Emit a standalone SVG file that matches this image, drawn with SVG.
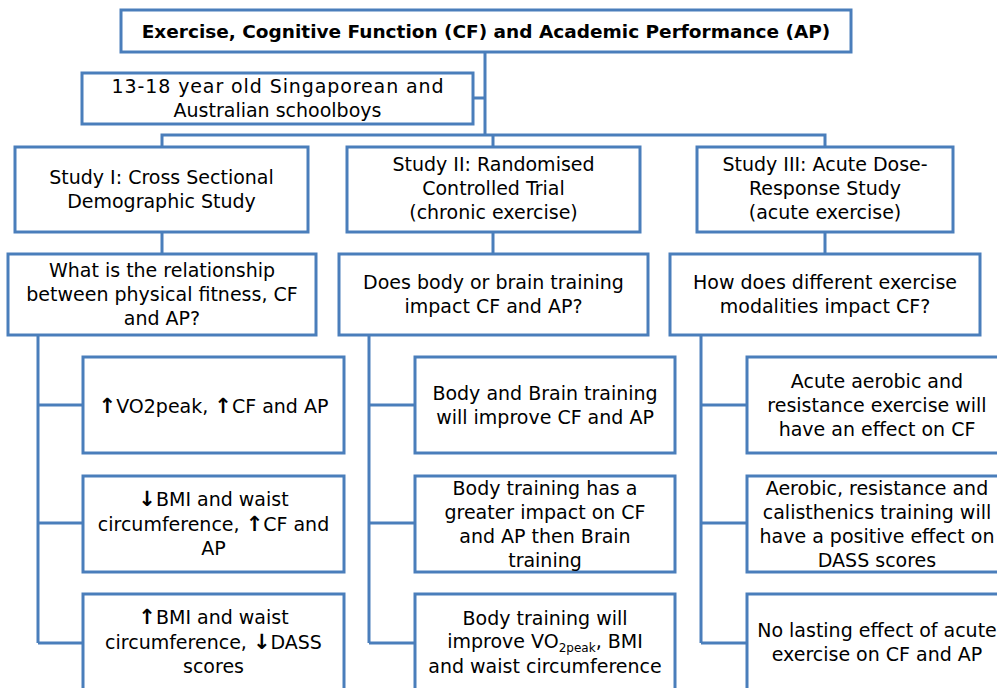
<svg xmlns="http://www.w3.org/2000/svg" width="997" height="688" viewBox="0 0 997 688">
<style>
.box{fill:#fff;stroke:#4a7ebb;stroke-width:3}
.ln{fill:none;stroke:#4a7ebb;stroke-width:3}
text{font-family:"DejaVu Sans","Liberation Sans",sans-serif;font-size:19px;fill:#000;text-anchor:middle}
.t{font-weight:bold;font-size:18.5px}
.ar{font-weight:bold;font-size:21px}
</style>
<rect width="997" height="688" fill="#fff"/>
<g id="connectors">
<path class="ln" d="M485 52V135M473 98H485M162 147V135H825V147M493 135V147"/>
<path class="ln" d="M162 232V254M493 232V254M825 232V254"/>
<path class="ln" d="M38 335V643M38 405H83M38 523H83M38 643H83"/>
<path class="ln" d="M369 335V643M369 405H415M369 523H415M369 643H415"/>
<path class="ln" d="M701 335V643M701 405H747M701 523H747M701 643H747"/>
</g>
<g id="title"><rect class="box" x="121" y="10" width="730" height="42"/><text class="t" x="486" y="38">Exercise, Cognitive Function (CF) and Academic Performance (AP)</text></g>
<g id="population"><rect class="box" x="82" y="73" width="391" height="51"/><text x="278" y="93" letter-spacing="0.9">13-18 year old Singaporean and</text><text x="277.5" y="117">Australian schoolboys</text></g>
<g id="study1"><rect class="box" x="15" y="147" width="293" height="85"/><text x="161.5" y="184">Study I: Cross Sectional</text><text x="161.5" y="208">Demographic Study</text></g>
<g id="study2"><rect class="box" x="347" y="147" width="293" height="85"/><text x="493.5" y="171">Study II: Randomised</text><text x="493.5" y="195">Controlled Trial</text><text x="493.5" y="219">(chronic exercise)</text></g>
<g id="study3"><rect class="box" x="697" y="147" width="256" height="85"/><text x="825" y="171">Study III: Acute Dose-</text><text x="825" y="195">Response Study</text><text x="825" y="219">(acute exercise)</text></g>
<g id="q1"><rect class="box" x="8" y="254" width="308" height="81"/><text x="162" y="277">What is the relationship</text><text x="162" y="301">between physical fitness, CF</text><text x="162" y="325">and AP?</text></g>
<g id="q2"><rect class="box" x="339" y="254" width="309" height="81"/><text x="493.5" y="289">Does body or brain training</text><text x="493.5" y="313">impact CF and AP?</text></g>
<g id="q3"><rect class="box" x="670" y="254" width="310" height="81"/><text x="825" y="289">How does different exercise</text><text x="825" y="313">modalities impact CF?</text></g>
<g id="h1a"><rect class="box" x="83" y="357" width="261" height="96"/><text x="213.5" y="413"><tspan class="ar">↑</tspan>VO2peak, <tspan class="ar">↑</tspan>CF and AP</text></g>
<g id="h1b"><rect class="box" x="83" y="476" width="261" height="96"/><text x="213.5" y="506"><tspan class="ar">↓</tspan>BMI and waist</text><text x="213.5" y="531">circumference, <tspan class="ar">↑</tspan>CF and</text><text x="213.5" y="555">AP</text></g>
<g id="h1c"><rect class="box" x="83" y="594" width="261" height="100"/><text x="213.5" y="624"><tspan class="ar">↑</tspan>BMI and waist</text><text x="213.5" y="649">circumference, <tspan class="ar">↓</tspan>DASS</text><text x="213.5" y="673">scores</text></g>
<g id="h2a"><rect class="box" x="415" y="357" width="260" height="96"/><text x="545" y="400">Body and Brain training</text><text x="545" y="424">will improve CF and AP</text></g>
<g id="h2b"><rect class="box" x="415" y="476" width="260" height="96"/><text x="545" y="495">Body training has a</text><text x="545" y="519">greater impact on CF</text><text x="545" y="543">and AP then Brain</text><text x="545" y="567">training</text></g>
<g id="h2c"><rect class="box" x="415" y="594" width="260" height="100"/><text x="545" y="625">Body training will</text><text x="545" y="648">improve VO<tspan font-size="12" dy="4">2peak</tspan><tspan dy="-4">, BMI</tspan></text><text x="545" y="673">and waist circumference</text></g>
<g id="h3a"><rect class="box" x="747" y="357" width="261" height="96"/><text x="877" y="388">Acute aerobic and</text><text x="877" y="412">resistance exercise will</text><text x="877" y="436">have an effect on CF</text></g>
<g id="h3b"><rect class="box" x="747" y="476" width="261" height="96"/><text x="877" y="495">Aerobic, resistance and</text><text x="877" y="519">calisthenics training will</text><text x="877" y="543">have a positive effect on</text><text x="877" y="567">DASS scores</text></g>
<g id="h3c"><rect class="box" x="747" y="594" width="261" height="100"/><text x="877" y="637">No lasting effect of acute</text><text x="877" y="661">exercise on CF and AP</text></g>
</svg>
